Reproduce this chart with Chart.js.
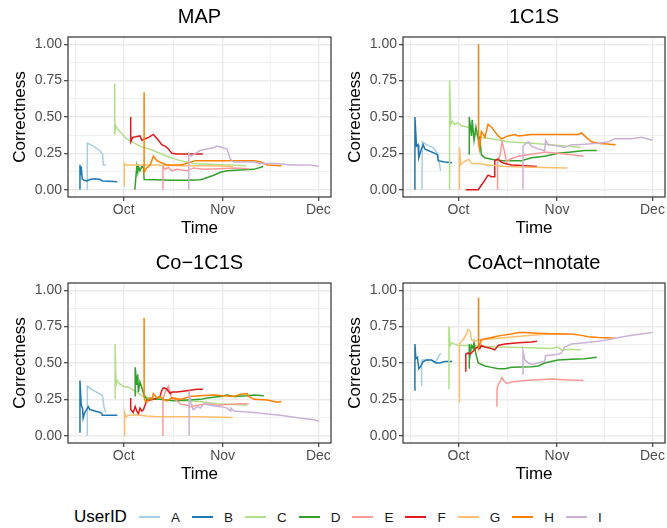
<!DOCTYPE html>
<html>
<head>
<meta charset="utf-8">
<script src="https://cdn.jsdelivr.net/npm/chart.js@4.4.1/dist/chart.umd.min.js"></script>
<style>
    body { margin: 0; background: #fff; font-family: "Liberation Sans", Arial, sans-serif; }
    #wrap { position: relative; width: 667px; height: 528px; overflow: hidden; background: #fff; }
    canvas { position: absolute; }
    #legend { position: absolute; left: 74px; top: 506px; height: 22px; display: flex; align-items: center; }
    #legend .ltitle { font-size: 17px; color: #000; margin-right: 12px; }
    #legend .item { display: flex; align-items: center; margin-right: 12px; }
    #legend .key { width: 21px; height: 1.5px; }
    #legend .lab { font-size: 13.5px; color: #1a1a1a; margin-left: 11px; }
</style>
</head>
<body>
<div id="wrap">
    <canvas id="p1" width="333" height="240" style="left:0;top:0"></canvas>
    <canvas id="p2" width="332" height="240" style="left:335px;top:0"></canvas>
    <canvas id="p3" width="333" height="240" style="left:0;top:246px"></canvas>
    <canvas id="p4" width="332" height="240" style="left:335px;top:246px"></canvas>
    <div id="legend"></div>
</div>
<script>
// Days counted from Oct 1
const timeTicks = [0, 31, 61];
const timeLabels = ['Oct', 'Nov', 'Dec'];
const timeMinor = [-15, 15.5, 46];
const correctnessTicks = [0, 0.25, 0.5, 0.75, 1];
const correctnessMinor = [0.125, 0.375, 0.625, 0.875];

const userIds = ['A', 'B', 'C', 'D', 'E', 'F', 'G', 'H', 'I'];
const userColors = ['#A6CEE3', '#1F78B4', '#B2DF8A', '#33A02C', '#FB9A99', '#E31A1C', '#FDBF6F', '#FF7F00', '#CAB2D6'];
const panelTitles = ['MAP', '1C1S', 'Co\u22121C1S', 'CoAct\u2212nnotate'];

// MAP .....................................................................
const mapA = [[-11.4,0],[-11.4,0.32],[-9.5,0.30],[-7.5,0.27],[-6.6,0.245],[-6.4,0.17],[-5.6,0.17]];
const mapB = [[-13.7,0],[-13.7,0.17],[-13.5,0.10],[-13.3,0.16],[-13.0,0.075],[-12.4,0.065],[-11.6,0.06],[-10.6,0.07],[-9.0,0.075],[-7.4,0.07],[-6.6,0.06],[-4.5,0.058],[-2.0,0.055]];
const mapC = [[-2.8,0.73],[-2.8,0.38],[-2.5,0.44],[-2.0,0.42],[-1.2,0.40],[0.9,0.35],[5.1,0.30],[9.3,0.27],[13.5,0.23],[17.7,0.20],[21.9,0.18],[27,0.175],[33.4,0.17],[38.5,0.165]];
const mapD = [[3.5,0],[4.1,0.16],[4.4,0.12],[4.6,0.16],[5.1,0.13],[5.7,0.16],[6.2,0.15],[6.4,0.07],[10,0.068],[15,0.065],[20,0.065],[24.0,0.068],[25.1,0.075],[28.2,0.10],[30.3,0.12],[32.4,0.13],[36.6,0.135],[40.8,0.14],[43.7,0.16]];
const mapE = [[12.3,0],[12.3,0.16],[13,0.14],[14,0.155],[15,0.13],[16.7,0.14],[19.8,0.13],[22,0.15],[25,0.14],[30,0.145],[35,0.15],[39.3,0.145]];
const mapF = [[2.2,0.50],[2.2,0.33],[2.8,0.36],[5.1,0.37],[5.7,0.34],[7.8,0.36],[9.3,0.38],[10.9,0.34],[11.9,0.31],[13.0,0.30],[14.0,0.28],[15.1,0.25],[16.7,0.245],[24.8,0.245]];
const mapG = [[0.2,0.02],[0.2,0.18],[0.5,0.17],[5,0.17],[10,0.17],[20,0.165],[28,0.165],[34.3,0.16]];
const mapH = [[6.4,0.67],[6.4,0.12],[7.2,0.15],[8.3,0.17],[9.3,0.23],[10.4,0.20],[11.4,0.19],[13.5,0.17],[18,0.17],[22.5,0.20],[30,0.20],[40.8,0.20],[43,0.19],[45,0.17],[49.4,0.165]];
const mapI = [[20.4,0],[20.4,0.25],[21.1,0.23],[22.5,0.25],[24.0,0.27],[26.1,0.28],[28.2,0.29],[29.2,0.30],[30.8,0.29],[32.4,0.28],[33.4,0.21],[34.5,0.19],[40.8,0.19],[42.9,0.18],[48.1,0.18],[52.3,0.17],[58.6,0.17],[61.1,0.16]];

// 1C1S ....................................................................
const c1sA = [[-11.5,0],[-11.4,0.33],[-10.1,0.31],[-8.0,0.29],[-6.6,0.25],[-5.6,0.13]];
const c1sB = [[-13.7,0],[-13.7,0.50],[-13.2,0.30],[-12.7,0.31],[-12.5,0.22],[-11.8,0.27],[-11.1,0.31],[-10.6,0.28],[-9.5,0.27],[-7.4,0.25],[-6.6,0.24],[-6.4,0.20],[-4.3,0.19],[-2.0,0.185]];
const c1sC = [[-2.8,0],[-2.8,0.75],[-2.4,0.45],[-2.0,0.47],[-1.2,0.45],[-0.1,0.46],[0.9,0.44],[3.0,0.43],[6.7,0.36],[10.4,0.35],[15.6,0.33],[23,0.32],[29.2,0.31],[33.4,0.30],[38.5,0.29]];
const c1sD = [[3.4,0.24],[3.4,0.50],[4.1,0.37],[4.3,0.48],[4.9,0.34],[5.5,0.43],[6.2,0.35],[6.7,0.36],[7.2,0.24],[8.3,0.22],[10.4,0.21],[13.5,0.20],[19.8,0.20],[23,0.22],[27.1,0.23],[31.3,0.25],[35.5,0.26],[39.7,0.27],[43.5,0.27]];
const c1sE = [[12.3,0],[12.3,0.21],[13,0.23],[13.7,0.33],[14.4,0.27],[15.1,0.19],[16.1,0.21],[18.8,0.23],[21.9,0.24],[25.1,0.25],[27.1,0.26],[31.3,0.25],[35.5,0.24],[39.3,0.23]];
const c1sF = [[2.3,0],[6.2,0],[7.8,0.05],[9.3,0.10],[10.4,0.09],[11.2,0.09],[11.4,0.20],[12.5,0.21],[13.5,0.19],[14.6,0.18],[16.7,0.17],[20.9,0.165],[24.7,0.16]];
const c1sG = [[0.3,0],[0.3,0.29],[0.7,0.17],[1.5,0.19],[2.5,0.20],[3.2,0.21],[4.1,0.18],[6.2,0.18],[9.3,0.17],[14.6,0.16],[23,0.155],[34.2,0.15]];
const c1sH = [[6.3,1.0],[6.3,0.32],[6.6,0.28],[7.2,0.40],[7.8,0.38],[8.3,0.36],[9.3,0.45],[10.4,0.43],[11.4,0.40],[12.5,0.37],[13.5,0.35],[14.6,0.36],[15.6,0.37],[17.7,0.38],[18.8,0.37],[20.9,0.375],[23,0.38],[34.5,0.38],[37.6,0.38],[38.7,0.39],[39.7,0.37],[41.8,0.33],[43.9,0.32],[49.4,0.31]];
const c1sI = [[20.3,0],[20.3,0.30],[21.9,0.33],[23,0.30],[25.1,0.28],[27.1,0.27],[27.4,0.34],[28.2,0.31],[31.3,0.30],[33.4,0.29],[35.5,0.31],[37.6,0.31],[43.9,0.32],[47.1,0.33],[49.2,0.35],[54.4,0.35],[57.5,0.36],[61.0,0.34]];

// Co-1C1S .................................................................
const co1A = [[-11.4,0],[-11.4,0.34],[-10.1,0.32],[-8.5,0.30],[-6.9,0.28],[-6.6,0.27],[-6.2,0.20],[-5.6,0.16]];
const co1B = [[-13.7,0.02],[-13.7,0.38],[-13.3,0.21],[-12.9,0.19],[-12.7,0.12],[-12.2,0.16],[-11.6,0.18],[-11.1,0.20],[-10.6,0.18],[-9.0,0.17],[-7.4,0.16],[-6.9,0.155],[-6.7,0.14],[-2.0,0.14]];
const co1C = [[-2.7,0.25],[-2.7,0.63],[-2.4,0.35],[-2.0,0.38],[-1.4,0.36],[-0.1,0.34],[2.0,0.33],[2.5,0.32],[4.1,0.30],[6.2,0.27],[8.3,0.26],[13.5,0.245],[17.7,0.24],[24,0.235],[29.2,0.22],[34.5,0.215],[38.7,0.21]];
const co1D = [[3.6,0.27],[3.6,0.47],[4.1,0.35],[4.4,0.42],[4.6,0.30],[5.1,0.37],[5.7,0.33],[6.2,0.29],[7.2,0.25],[11.4,0.25],[15.6,0.24],[19.8,0.245],[24,0.25],[26.1,0.26],[30.3,0.27],[32.4,0.28],[34.5,0.27],[38.7,0.275],[40.8,0.28],[43.9,0.275]];
const co1E = [[12.3,0],[12.3,0.25],[13,0.30],[14,0.34],[14.6,0.29],[15.1,0.26],[16.7,0.24],[17.7,0.22],[19.8,0.21],[20.9,0.20],[23,0.21],[26.1,0.22],[29.2,0.21],[32.4,0.215],[36.6,0.22],[39.2,0.22]];
const co1F = [[2.2,0.26],[2.2,0.18],[3.0,0.16],[3.6,0.20],[4.1,0.17],[4.6,0.15],[5.1,0.19],[5.7,0.17],[6.2,0.18],[7.2,0.24],[9.3,0.25],[10.4,0.26],[11.4,0.27],[11.9,0.31],[12.5,0.33],[13.5,0.32],[14.6,0.29],[15.1,0.30],[16.7,0.30],[19.8,0.31],[23,0.32],[24.8,0.32]];
const co1G = [[0.3,0],[0.3,0.16],[0.7,0.13],[1.5,0.14],[3.0,0.145],[5.1,0.14],[7.2,0.135],[10.4,0.13],[18.8,0.13],[24,0.13],[34.2,0.125]];
const co1H = [[6.4,0.81],[6.4,0.26],[6.7,0.24],[7.2,0.23],[8.3,0.26],[8.8,0.25],[9.3,0.29],[10.4,0.26],[11.4,0.27],[12.5,0.25],[13.5,0.24],[15.1,0.26],[17.7,0.25],[20.9,0.27],[24,0.275],[28.2,0.28],[34.5,0.27],[36.6,0.285],[38.7,0.29],[39.2,0.27],[40.8,0.25],[45,0.245],[48.1,0.23],[49.4,0.235]];
const co1I = [[20.5,0],[20.5,0.31],[21.1,0.22],[21.4,0.20],[21.9,0.18],[23,0.20],[24,0.19],[25.1,0.22],[27.1,0.21],[30.3,0.20],[32.4,0.19],[33.4,0.17],[33.6,0.19],[34.5,0.17],[40.8,0.16],[45,0.15],[49.2,0.14],[52.3,0.13],[55.5,0.12],[59.6,0.11],[61.2,0.10]];

// CoAct-nnotate ...........................................................
const coaA = [[-11.6,0.34],[-11.6,0.52],[-8.5,0.52],[-7.4,0.50],[-6.6,0.53],[-5.6,0.57]];
const coaB = [[-13.7,0.31],[-13.7,0.63],[-13.4,0.53],[-12.9,0.54],[-12.5,0.46],[-12.1,0.47],[-11.1,0.51],[-10.1,0.52],[-8.5,0.52],[-6.9,0.50],[-5.9,0.50],[-4.3,0.51],[-2.0,0.51]];
const coaC = [[-3.0,0.32],[-3.0,0.75],[-2.6,0.62],[-2.0,0.64],[-1.2,0.63],[-0.1,0.62],[4.1,0.62],[7.2,0.615],[12.5,0.61],[23,0.605],[29.2,0.60],[31.3,0.61],[32.4,0.59],[35.5,0.595],[38.5,0.59]];
const coaD = [[3.4,0.46],[3.4,0.63],[3.7,0.56],[4.1,0.62],[4.6,0.60],[4.9,0.64],[5.3,0.58],[6.2,0.50],[8.3,0.48],[10.4,0.47],[12.5,0.46],[14.6,0.46],[16.7,0.47],[23,0.475],[25.1,0.48],[27.1,0.50],[29.2,0.51],[31.3,0.52],[35.5,0.525],[39.7,0.53],[43.5,0.54]];
const coaE = [[12.1,0.20],[12.1,0.32],[12.5,0.35],[13.0,0.37],[13.7,0.40],[14.2,0.38],[15.1,0.36],[16.7,0.37],[20.9,0.38],[25.1,0.385],[29.2,0.39],[33.4,0.385],[39.3,0.38]];
const coaF = [[2.3,0.44],[2.3,0.56],[3.0,0.57],[3.6,0.56],[4.6,0.58],[5.3,0.60],[6.2,0.61],[6.7,0.60],[7.2,0.62],[8.3,0.61],[10.4,0.60],[11.4,0.59],[12.5,0.62],[14.6,0.63],[18.8,0.64],[23,0.645],[24.7,0.65]];
const coaG = [[0.3,0.23],[0.3,0.63],[0.9,0.65],[1.5,0.66],[2.5,0.70],[3.0,0.73],[3.6,0.72],[4.1,0.66],[5.1,0.65],[6.2,0.66],[7.2,0.66],[12.5,0.67],[17.7,0.68],[23,0.69],[28.2,0.70],[34.2,0.70]];
const coaH = [[6.3,0.95],[6.3,0.60],[6.6,0.62],[7.2,0.66],[9.3,0.67],[11.4,0.68],[13.5,0.69],[16.7,0.70],[18.8,0.71],[20.9,0.71],[25.1,0.705],[31.3,0.70],[35.5,0.70],[38.7,0.69],[40.8,0.68],[43.9,0.675],[49.4,0.67]];
const coaI = [[20.3,0.42],[20.3,0.58],[20.9,0.52],[21.9,0.50],[23,0.49],[25.1,0.50],[27.1,0.51],[27.4,0.55],[31.3,0.56],[32.4,0.57],[33.4,0.61],[35.5,0.63],[39.7,0.64],[43.9,0.65],[47.1,0.66],[49.2,0.67],[54.4,0.69],[57.5,0.70],[61.0,0.71]];

const panelSeries = [
    [mapA, mapB, mapC, mapD, mapE, mapF, mapG, mapH, mapI],
    [c1sA, c1sB, c1sC, c1sD, c1sE, c1sF, c1sG, c1sH, c1sI],
    [co1A, co1B, co1C, co1D, co1E, co1F, co1G, co1H, co1I],
    [coaA, coaB, coaC, coaD, coaE, coaF, coaG, coaH, coaI]
];

Chart.defaults.font.family = '"Liberation Sans", Arial, sans-serif';

// ggplot-like panel border drawn over the lines
const panelBorder = {
    id: 'panelBorder',
    afterDraw(chart) {
        const { ctx, chartArea: a } = chart;
        ctx.save();
        ctx.strokeStyle = '#333333';
        ctx.lineWidth = 1.2;
        ctx.strokeRect(a.left, a.top, a.right - a.left, a.bottom - a.top);
        ctx.restore();
    }
};

function gridOpts(majors) {
    return {
        color: '#EBEBEB',
        lineWidth: ctx => majors.includes(ctx.tick.value) ? 1.4 : 0.7,
        tickColor: ctx => majors.includes(ctx.tick.value) ? '#333333' : 'rgba(0,0,0,0)',
        tickWidth: 1.1,
        tickLength: 4
    };
}

function makePanel(canvasId, title, series) {
    const canvas = document.getElementById(canvasId);
    const datasets = series.map((pts, i) => ({
        label: userIds[i],
        data: pts.map(p => ({ x: p[0], y: p[1] })),
        borderColor: userColors[i],
        borderWidth: 1.5,
        pointRadius: 0,
        tension: 0,
        fill: false,
        order: series.length - i
    }));
    const xGrid = [...timeTicks, ...timeMinor].sort((a, b) => a - b);
    const yGrid = [...correctnessTicks, ...correctnessMinor].sort((a, b) => a - b);

    return new Chart(canvas, {
        type: 'line',
        data: { datasets: datasets },
        plugins: [panelBorder],
        options: {
            responsive: false,
            animation: false,
            layout: { padding: { left: 0, right: 2, top: 0, bottom: 0 } },
            plugins: {
                legend: { display: false },
                tooltip: { enabled: false },
                title: {
                    display: true,
                    text: title,
                    fullSize: false,
                    color: '#000',
                    font: { size: 20, weight: 'normal' },
                    padding: { top: 5, bottom: 8 }
                }
            },
            scales: {
                x: {
                    type: 'linear',
                    min: -17.45,
                    max: 64.95,
                    afterBuildTicks: s => { s.ticks = xGrid.map(v => ({ value: v })); },
                    afterFit: s => { s.height = 43; },
                    border: { display: false },
                    grid: gridOpts(timeTicks),
                    ticks: {
                        autoSkip: false,
                        maxRotation: 0,
                        padding: 1,
                        color: '#4D4D4D',
                        font: { size: 14 },
                        callback: v => {
                            const i = timeTicks.indexOf(v);
                            return i >= 0 ? timeLabels[i] : '';
                        }
                    },
                    title: {
                        display: true,
                        text: 'Time',
                        color: '#000',
                        font: { size: 17 },
                        padding: { top: 0, bottom: 1 }
                    }
                },
                y: {
                    type: 'linear',
                    min: -0.05,
                    max: 1.05,
                    afterBuildTicks: s => { s.ticks = yGrid.map(v => ({ value: v })); },
                    afterFit: s => { s.width = 68; },
                    border: { display: false },
                    grid: gridOpts(correctnessTicks),
                    ticks: {
                        autoSkip: false,
                        padding: 2,
                        color: '#4D4D4D',
                        font: { size: 14 },
                        callback: v => correctnessTicks.includes(v) ? v.toFixed(2) : ''
                    },
                    title: {
                        display: true,
                        text: 'Correctness',
                        color: '#000',
                        font: { size: 17 },
                        padding: { top: 10, bottom: 0 }
                    }
                }
            }
        }
    });
}

makePanel('p1', panelTitles[0], panelSeries[0]);
makePanel('p2', panelTitles[1], panelSeries[1]);
makePanel('p3', panelTitles[2], panelSeries[2]);
makePanel('p4', panelTitles[3], panelSeries[3]);

// Legend ..................................................................
const legend = document.getElementById('legend');
let html = '<span class="ltitle">UserID</span>';
userIds.forEach((id, i) => {
    html += `<span class="item"><span class="key" style="background:${userColors[i]}"></span><span class="lab">${id}</span></span>`;
});
legend.innerHTML = html;
</script>
</body>
</html>
